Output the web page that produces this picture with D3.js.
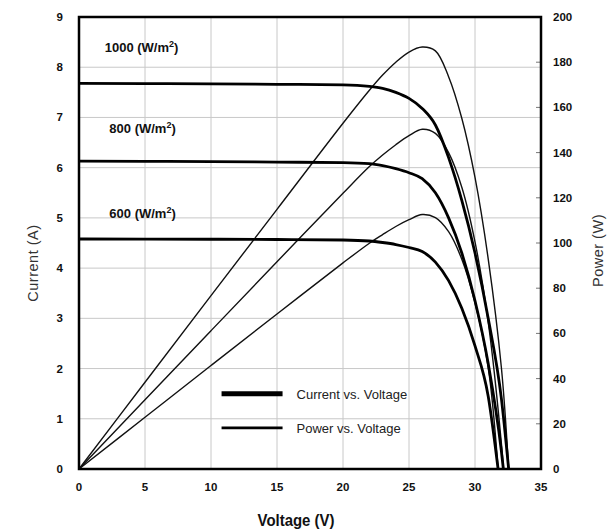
<!DOCTYPE html>
<html>
<head>
<meta charset="utf-8">
<script src="https://cdn.jsdelivr.net/npm/d3@7"></script>
<style>
  body { margin: 0; background: #fff; }
  .tick_lbl { font-family: "Liberation Sans", Arial, sans-serif; font-size: 11.5px; font-weight: bold; fill: #111; }
  .irr_lbl { font-family: "Liberation Sans", Arial, sans-serif; font-size: 13px; font-weight: bold; fill: #111; }
  .leg_lbl { font-family: "Liberation Sans", Arial, sans-serif; font-size: 13px; fill: #222; }
  .axis_title { font-family: "Liberation Sans", Arial, sans-serif; font-size: 14.5px; fill: #333; letter-spacing: 0.5px; }
</style>
</head>
<body>
<div id="chart"></div>
<script>

// voltage (V) sample points for each irradiance level
var volts1000 = [0, 5, 10, 15, 20, 22, 23, 24, 25, 26, 27, 28, 29, 30, 31, 32, 32.55];
var volts800  = [0, 5, 10, 15, 20, 22, 23, 24, 25, 26, 27, 28, 29, 30, 31, 32, 32.15];
var volts600  = [0, 5, 10, 15, 20, 22, 23, 24, 25, 26, 27, 28, 29, 30, 31, 31.75];

// current (A)
var amps1000 = [7.68, 7.675, 7.67, 7.66, 7.65, 7.62, 7.58, 7.5, 7.38, 7.18, 6.85, 6.2, 5.35, 4.3, 3.0, 1.4, 0];
var amps800  = [6.13, 6.125, 6.12, 6.11, 6.1, 6.08, 6.04, 5.98, 5.9, 5.78, 5.5, 5.0, 4.3, 3.35, 2.1, 0.35, 0];
var amps600  = [4.58, 4.578, 4.575, 4.57, 4.56, 4.54, 4.51, 4.47, 4.41, 4.33, 4.12, 3.75, 3.2, 2.45, 1.45, 0];

// power (W)
var watts1000 = [0, 38.4, 76.7, 114.9, 153, 167.6, 174.3, 180, 184.5, 186.7, 185, 173.6, 155.2, 129, 93, 44.8, 0];
var watts800  = [0, 30.6, 61.2, 91.7, 122, 133.8, 138.9, 143.5, 147.5, 150.3, 148.5, 140, 124.7, 100.5, 65.1, 11.2, 0];
var watts600  = [0, 22.9, 45.8, 68.6, 91.2, 99.9, 103.7, 107.3, 110.3, 112.6, 111.2, 105, 92.8, 73.5, 45, 0];

var irrLabels = ["1000", "800", "600"];
var irrLabelY = [8.4, 6.78, 5.1];   // label position in amps

var xTicks = [0, 5, 10, 15, 20, 25, 30, 35];
var yTicks = [0, 1, 2, 3, 4, 5, 6, 7, 8, 9];
var pTicks = [0, 20, 40, 60, 80, 100, 120, 140, 160, 180, 200];

var legendNames = ["Current vs. Voltage", "Power vs. Voltage"];

var svg_w = 609, svg_h = 530;
var margin = {top: 17, right: 68, bottom: 61, left: 79};
var plot_w = svg_w - margin.left - margin.right;
var plot_h = svg_h - margin.top - margin.bottom;

var svg = d3.select("#chart")
  .append("svg")
    .attr("width", svg_w)
    .attr("height", svg_h)
  .append("g")
    .attr("transform", "translate(" + margin.left + "," + margin.top + ")");

var x = d3.scaleLinear().domain([0, 35]).range([0, plot_w]);
var y = d3.scaleLinear().domain([0, 9]).range([plot_h, 0]);
var yP = d3.scaleLinear().domain([0, 200]).range([plot_h, 0]);

// grid
svg.append("g")
  .selectAll("line")
  .data(xTicks.slice(1, -1))
  .enter()
  .append("line")
    .attr("x1", d => x(d)).attr("x2", d => x(d))
    .attr("y1", 0).attr("y2", plot_h)
    .attr("stroke", "#c8c8c8").attr("stroke-width", 1);

svg.append("g")
  .selectAll("line")
  .data(yTicks.slice(1, -1))
  .enter()
  .append("line")
    .attr("x1", 0).attr("x2", plot_w)
    .attr("y1", d => y(d)).attr("y2", d => y(d))
    .attr("stroke", "#c8c8c8").attr("stroke-width", 1);

// right axis inner ticks
svg.append("g")
  .selectAll("line")
  .data(pTicks.slice(1, -1))
  .enter()
  .append("line")
    .attr("x1", plot_w - 5).attr("x2", plot_w)
    .attr("y1", d => yP(d)).attr("y2", d => yP(d))
    .attr("stroke", "#777").attr("stroke-width", 1);

// tick labels
svg.append("g")
  .selectAll("text")
  .data(xTicks)
  .enter()
  .append("text")
    .attr("class", "tick_lbl")
    .attr("x", d => x(d))
    .attr("y", plot_h + 22)
    .style("text-anchor", "middle")
    .text(d => d);

svg.append("g")
  .selectAll("text")
  .data(yTicks)
  .enter()
  .append("text")
    .attr("class", "tick_lbl")
    .attr("x", -16)
    .attr("y", d => y(d) + 4)
    .style("text-anchor", "end")
    .text(d => d);

svg.append("g")
  .selectAll("text")
  .data(pTicks)
  .enter()
  .append("text")
    .attr("class", "tick_lbl")
    .attr("x", plot_w + 12)
    .attr("y", d => yP(d) + 4)
    .style("text-anchor", "start")
    .text(d => d);

// curves
var ivLine = d3.line()
  .x(d => x(d[0]))
  .y(d => y(d[1]))
  .curve(d3.curveMonotoneX);

var pvLine = d3.line()
  .x(d => x(d[0]))
  .y(d => yP(d[1]))
  .curve(d3.curveCatmullRom.alpha(0.5));

var ivSeries = [d3.zip(volts1000, amps1000), d3.zip(volts800, amps800), d3.zip(volts600, amps600)];
var pvSeries = [d3.zip(volts1000, watts1000), d3.zip(volts800, watts800), d3.zip(volts600, watts600)];

svg.selectAll("pvLines")
  .data(pvSeries)
  .enter()
  .append("path")
    .attr("d", d => pvLine(d))
    .attr("fill", "none")
    .attr("stroke", "#111")
    .attr("stroke-width", 1.4);

svg.selectAll("ivLines")
  .data(ivSeries)
  .enter()
  .append("path")
    .attr("d", d => ivLine(d))
    .attr("fill", "none")
    .attr("stroke", "#000")
    .attr("stroke-width", 2.8);

// frame
svg.append("rect")
  .attr("x", 0).attr("y", 0)
  .attr("width", plot_w).attr("height", plot_h)
  .attr("fill", "none")
  .attr("stroke", "#000")
  .attr("stroke-width", 2.5);

// irradiance labels
var irr = svg.selectAll("irrLbl")
  .data(irrLabels)
  .enter()
  .append("text")
    .attr("class", "irr_lbl")
    .attr("x", (d, i) => i == 0 ? x(1.95) : x(2.3))
    .attr("y", (d, i) => y(irrLabelY[i]) + 5);
irr.append("tspan").text(d => d + " (W/m");
irr.append("tspan").attr("dy", -5).style("font-size", "9px").text("2");
irr.append("tspan").attr("dy", 5).text(")");

// legend
var leg = svg.selectAll("legend")
  .data(legendNames)
  .enter()
  .append("g")
    .attr("transform", (d, i) => "translate(" + x(10.8) + "," + (y(1.5) - i * (y(1.5) - y(0.82))) + ")");

leg.append("line")
  .attr("x1", 0).attr("x2", 61)
  .attr("y1", 0).attr("y2", 0)
  .attr("stroke", "#000")
  .attr("stroke-width", (d, i) => i == 0 ? 5 : 2.8);

leg.append("text")
  .attr("class", "leg_lbl")
  .attr("x", 75)
  .attr("y", 5)
  .text(d => d);

// axis titles
svg.append("text")
  .attr("class", "axis_title")
  .attr("transform", "rotate(-90)")
  .attr("x", -(y(4.1)))
  .attr("y", -41)
  .style("text-anchor", "middle")
  .text("Current (A)");

svg.append("text")
  .attr("class", "axis_title")
  .attr("transform", "rotate(-90)")
  .attr("x", -(y(4.35)))
  .attr("y", plot_w + 62)
  .style("text-anchor", "middle")
  .text("Power (W)");

svg.append("text")
  .attr("transform", "translate(" + (x(17.5) - 14) + "," + (plot_h + 57) + ") scale(0.88,1)")
  .style("text-anchor", "middle")
  .style("font-family", "'Liberation Sans Narrow', 'Arial Narrow', 'Liberation Sans', sans-serif")
  .style("font-size", "17px")
  .style("font-weight", "bold")
  .style("fill", "#111")
  .text("Voltage (V)");

</script>
</body>
</html>
